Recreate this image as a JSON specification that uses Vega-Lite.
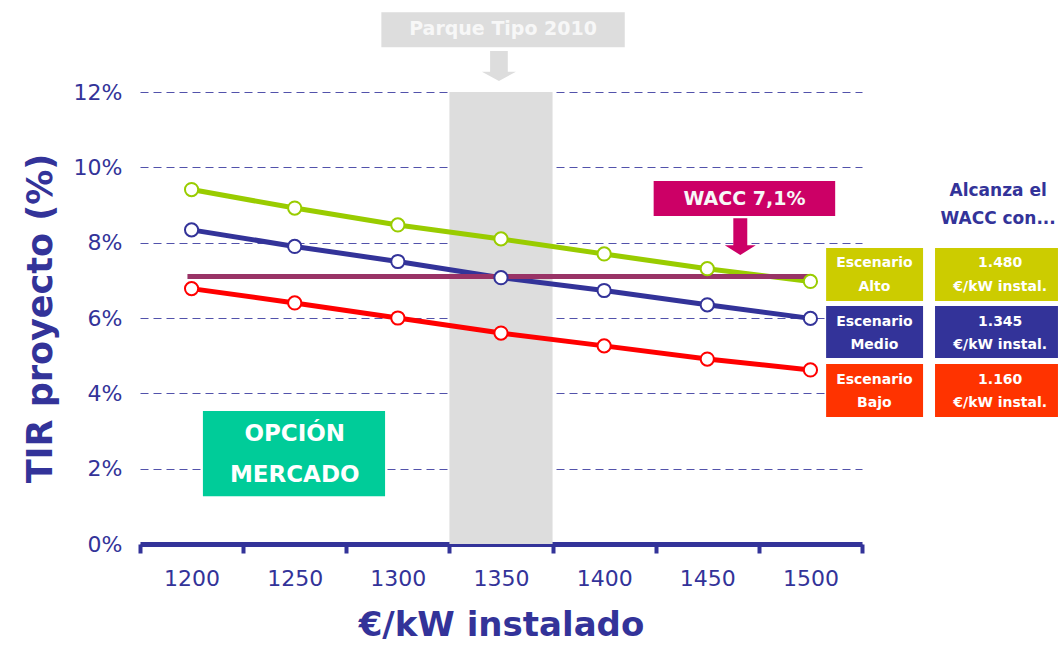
{
  "$schema": "https://vega.github.io/schema/vega-lite/v6.json",
  "width": 722,
  "height": 452,
  "autosize": {"type": "none"},
  "padding": {"left": 140, "top": 92, "right": 196, "bottom": 101},
  "background": "white",
  "config": {"font": "DejaVu Sans", "view": {"stroke": null}},
  "datasets": {
    "series": [
      {"kw": 1200, "tir": 9.41, "escenario": "Alto"},
      {"kw": 1250, "tir": 8.92, "escenario": "Alto"},
      {"kw": 1300, "tir": 8.47, "escenario": "Alto"},
      {"kw": 1350, "tir": 8.10, "escenario": "Alto"},
      {"kw": 1400, "tir": 7.70, "escenario": "Alto"},
      {"kw": 1450, "tir": 7.31, "escenario": "Alto"},
      {"kw": 1500, "tir": 6.97, "escenario": "Alto"},
      {"kw": 1200, "tir": 8.34, "escenario": "Medio"},
      {"kw": 1250, "tir": 7.90, "escenario": "Medio"},
      {"kw": 1300, "tir": 7.50, "escenario": "Medio"},
      {"kw": 1350, "tir": 7.07, "escenario": "Medio"},
      {"kw": 1400, "tir": 6.73, "escenario": "Medio"},
      {"kw": 1450, "tir": 6.35, "escenario": "Medio"},
      {"kw": 1500, "tir": 5.99, "escenario": "Medio"},
      {"kw": 1200, "tir": 6.78, "escenario": "Bajo"},
      {"kw": 1250, "tir": 6.40, "escenario": "Bajo"},
      {"kw": 1300, "tir": 6.00, "escenario": "Bajo"},
      {"kw": 1350, "tir": 5.60, "escenario": "Bajo"},
      {"kw": 1400, "tir": 5.26, "escenario": "Bajo"},
      {"kw": 1450, "tir": 4.91, "escenario": "Bajo"},
      {"kw": 1500, "tir": 4.62, "escenario": "Bajo"}
    ],
    "franja": [{"desde": 1325, "hasta": 1375, "tir_min": 0, "tir_max": 12}],
    "wacc": [{"desde": 1198, "hasta": 1500, "tir": 7.1}],
    "cajas": [
      {"caja": "parque", "desde": 1292, "hasta": 1410, "tir_min": 13.19, "tir_max": 14.12},
      {"caja": "wacc", "desde": 1424, "hasta": 1512, "tir_min": 8.71, "tir_max": 9.64},
      {"caja": "opcion", "desde": 1205.5, "hasta": 1293.8, "tir_min": 1.27, "tir_max": 3.53},
      {"caja": "alto", "desde": 1507.6, "hasta": 1554.6, "tir_min": 6.45, "tir_max": 7.86},
      {"caja": "alto", "desde": 1560.4, "hasta": 1620, "tir_min": 6.45, "tir_max": 7.86},
      {"caja": "medio", "desde": 1507.6, "hasta": 1554.6, "tir_min": 4.94, "tir_max": 6.32},
      {"caja": "medio", "desde": 1560.4, "hasta": 1620, "tir_min": 4.94, "tir_max": 6.32},
      {"caja": "bajo", "desde": 1507.6, "hasta": 1554.6, "tir_min": 3.37, "tir_max": 4.78},
      {"caja": "bajo", "desde": 1560.4, "hasta": 1620, "tir_min": 3.37, "tir_max": 4.78}
    ],
    "flechas": [
      {"flecha": "parque", "kw": 1349, "tir": 12.69},
      {"flecha": "wacc", "kw": 1466, "tir": 8.16}
    ],
    "textos": [
      {"grupo": "caja", "kw": 1351, "tir": 13.67, "texto": "Parque Tipo 2010"},
      {"grupo": "caja", "kw": 1468, "tir": 9.17, "texto": "WACC 7,1%"},
      {"grupo": "opcion", "kw": 1250, "tir": 2.93, "texto": "OPCIÓN"},
      {"grupo": "opcion", "kw": 1250, "tir": 1.83, "texto": "MERCADO"},
      {"grupo": "alcanza", "kw": 1591, "tir": 9.37, "texto": "Alcanza el"},
      {"grupo": "alcanza", "kw": 1591, "tir": 8.63, "texto": "WACC con..."},
      {"grupo": "celda", "kw": 1531, "tir": 7.46, "texto": "Escenario"},
      {"grupo": "celda", "kw": 1531, "tir": 6.82, "texto": "Alto"},
      {"grupo": "celda", "kw": 1531, "tir": 5.89, "texto": "Escenario"},
      {"grupo": "celda", "kw": 1531, "tir": 5.28, "texto": "Medio"},
      {"grupo": "celda", "kw": 1531, "tir": 4.35, "texto": "Escenario"},
      {"grupo": "celda", "kw": 1531, "tir": 3.74, "texto": "Bajo"},
      {"grupo": "celda", "kw": 1592, "tir": 7.46, "texto": "1.480"},
      {"grupo": "celda", "kw": 1592, "tir": 6.82, "texto": "€/kW instal."},
      {"grupo": "celda", "kw": 1592, "tir": 5.89, "texto": "1.345"},
      {"grupo": "celda", "kw": 1592, "tir": 5.28, "texto": "€/kW instal."},
      {"grupo": "celda", "kw": 1592, "tir": 4.35, "texto": "1.160"},
      {"grupo": "celda", "kw": 1592, "tir": 3.74, "texto": "€/kW instal."}
    ]
  },
  "layer": [
    {
      "data": {"name": "franja"},
      "mark": {"type": "rect", "color": "#dddddd"},
      "encoding": {
        "x": {
          "field": "desde", "type": "quantitative", "title": "€/kW instalado",
          "scale": {"domain": [1175, 1525], "nice": false, "zero": false},
          "axis": {
            "titleFontSize": 34, "titleFontWeight": "bold", "titleColor": "#333399", "titlePadding": 19,
            "values": [1175, 1200, 1225, 1250, 1275, 1300, 1325, 1350, 1375, 1400, 1425, 1450, 1475, 1500, 1525],
            "format": "d",
            "labelExpr": "datum.value % 50 === 0 ? datum.label : ''",
            "labelFontSize": 22, "labelColor": "#333399", "labelPadding": 15, "labelFlush": false, "labelOverlap": false,
            "domainColor": "#333399", "domainWidth": 5,
            "ticks": true, "tickSize": 9, "tickWidth": 4,
            "tickColor": {"condition": {"test": "datum.value % 50 === 0", "value": "transparent"}, "value": "#333399"},
            "grid": false
          }
        },
        "x2": {"field": "hasta"},
        "y": {
          "field": "tir_min", "type": "quantitative", "title": "TIR proyecto (%)",
          "scale": {"domain": [0, 12], "nice": false, "zero": false},
          "axis": {
            "titleFontSize": 35, "titleFontWeight": "bold", "titleColor": "#333399", "titlePadding": 15,
            "values": [0, 2, 4, 6, 8, 10, 12],
            "labelExpr": "datum.value + '%'",
            "labelFontSize": 22, "labelColor": "#333399", "labelPadding": 18,
            "domain": false, "ticks": false,
            "grid": true, "gridColor": "#5252ab", "gridDash": [8, 5], "gridWidth": 1.2
          }
        },
        "y2": {"field": "tir_max"}
      }
    },
    {
      "data": {"name": "series"},
      "mark": {"type": "line", "strokeWidth": 5},
      "encoding": {
        "x": {"field": "kw", "type": "quantitative", "title": "€/kW instalado"},
        "y": {"field": "tir", "type": "quantitative", "title": "TIR proyecto (%)"},
        "stroke": {"field": "escenario", "type": "nominal", "scale": {"domain": ["Alto", "Medio", "Bajo"], "range": ["#99cc00", "#333399", "#ff0000"]}, "legend": null}
      }
    },
    {
      "data": {"name": "wacc"},
      "mark": {"type": "rule", "color": "#993366", "strokeWidth": 5},
      "encoding": {
        "x": {"field": "desde", "type": "quantitative", "title": "€/kW instalado"},
        "x2": {"field": "hasta"},
        "y": {"field": "tir", "type": "quantitative", "title": "TIR proyecto (%)"}
      }
    },
    {
      "data": {"name": "series"},
      "mark": {"type": "point", "shape": "circle", "filled": false, "fill": "white", "fillOpacity": 1, "opacity": 1, "strokeWidth": 2, "size": 175},
      "encoding": {
        "x": {"field": "kw", "type": "quantitative", "title": "€/kW instalado"},
        "y": {"field": "tir", "type": "quantitative", "title": "TIR proyecto (%)"},
        "stroke": {"field": "escenario", "type": "nominal", "scale": {"domain": ["Alto", "Medio", "Bajo"], "range": ["#99cc00", "#333399", "#ff0000"]}, "legend": null}
      }
    },
    {
      "data": {"name": "cajas"},
      "mark": {"type": "rect", "clip": false},
      "encoding": {
        "x": {"field": "desde", "type": "quantitative", "title": "€/kW instalado"},
        "x2": {"field": "hasta"},
        "y": {"field": "tir_min", "type": "quantitative", "title": "TIR proyecto (%)"},
        "y2": {"field": "tir_max"},
        "fill": {"field": "caja", "type": "nominal", "scale": {"domain": ["parque", "wacc", "opcion", "alto", "medio", "bajo"], "range": ["#dddddd", "#cc0066", "#00cc99", "#cccc00", "#333399", "#ff3300"]}, "legend": null}
      }
    },
    {
      "data": {"name": "flechas"},
      "transform": [{"filter": "datum.flecha === 'parque'"}],
      "mark": {"type": "point", "clip": false, "filled": true, "color": "#dddddd", "opacity": 1, "size": 1156, "shape": "M-0.52,-0.88L0.52,-0.88L0.52,0.34L1,0.34L0,0.88L-1,0.34L-0.52,0.34Z"},
      "encoding": {
        "x": {"field": "kw", "type": "quantitative", "title": "€/kW instalado"},
        "y": {"field": "tir", "type": "quantitative", "title": "TIR proyecto (%)"}
      }
    },
    {
      "data": {"name": "flechas"},
      "transform": [{"filter": "datum.flecha === 'wacc'"}],
      "mark": {"type": "point", "clip": false, "filled": true, "color": "#cc0066", "opacity": 1, "size": 961, "shape": "M-0.45,-1.19L0.45,-1.19L0.45,0.55L1,0.55L0,1.19L-1,0.55L-0.45,0.55Z"},
      "encoding": {
        "x": {"field": "kw", "type": "quantitative", "title": "€/kW instalado"},
        "y": {"field": "tir", "type": "quantitative", "title": "TIR proyecto (%)"}
      }
    },
    {
      "data": {"name": "textos"},
      "transform": [{"filter": "datum.grupo === 'caja'"}],
      "mark": {"type": "text", "clip": false, "align": "center", "baseline": "middle", "fontSize": 19, "fontWeight": "bold", "color": "#f7f7f7"},
      "encoding": {
        "x": {"field": "kw", "type": "quantitative", "title": "€/kW instalado"},
        "y": {"field": "tir", "type": "quantitative", "title": "TIR proyecto (%)"},
        "text": {"field": "texto", "type": "nominal"}
      }
    },
    {
      "data": {"name": "textos"},
      "transform": [{"filter": "datum.grupo === 'opcion'"}],
      "mark": {"type": "text", "clip": false, "align": "center", "baseline": "middle", "fontSize": 23, "fontWeight": "bold", "color": "white"},
      "encoding": {
        "x": {"field": "kw", "type": "quantitative", "title": "€/kW instalado"},
        "y": {"field": "tir", "type": "quantitative", "title": "TIR proyecto (%)"},
        "text": {"field": "texto", "type": "nominal"}
      }
    },
    {
      "data": {"name": "textos"},
      "transform": [{"filter": "datum.grupo === 'alcanza'"}],
      "mark": {"type": "text", "clip": false, "align": "center", "baseline": "middle", "fontSize": 17, "fontWeight": "bold", "color": "#333399"},
      "encoding": {
        "x": {"field": "kw", "type": "quantitative", "title": "€/kW instalado"},
        "y": {"field": "tir", "type": "quantitative", "title": "TIR proyecto (%)"},
        "text": {"field": "texto", "type": "nominal"}
      }
    },
    {
      "data": {"name": "textos"},
      "transform": [{"filter": "datum.grupo === 'celda'"}],
      "mark": {"type": "text", "clip": false, "align": "center", "baseline": "middle", "fontSize": 14, "fontWeight": "bold", "color": "white"},
      "encoding": {
        "x": {"field": "kw", "type": "quantitative", "title": "€/kW instalado"},
        "y": {"field": "tir", "type": "quantitative", "title": "TIR proyecto (%)"},
        "text": {"field": "texto", "type": "nominal"}
      }
    }
  ]
}
